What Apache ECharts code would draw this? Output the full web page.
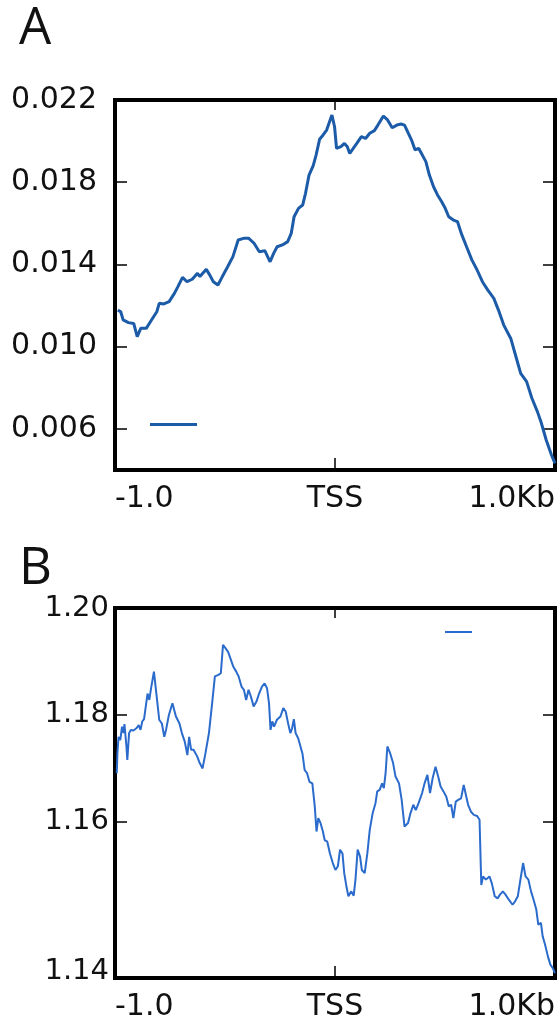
<!DOCTYPE html>
<html><head><meta charset="utf-8">
<script src="https://cdn.jsdelivr.net/npm/echarts@6/dist/echarts.min.js"></script>
<style>html,body{margin:0;padding:0;background:#fff}#c{width:558px;height:1024px}</style>
</head><body><div id="c"></div>
<script>
// shared x axis (bp relative to TSS)
const xTickValues = [-1000, 0, 1000];
const xTickLabels = ['-1.0', 'TSS', '1.0Kb'];

// Panel A
const posA = [-987,-974,-963,-939,-915,-899,-883,-858,-834,-810,-799,-778,-754,-730,-714,-693,-673,-649,-625,-614,-601,-585,-569,-553,-532,-512,-488,-464,-440,-416,-392,-368,-344,-319,-295,-279,-263,-239,-215,-199,-186,-166,-147,-134,-118,-99,-86,-70,-54,-38,-14,-2,7,27,43,56,67,83,99,120,139,158,179,195,220,239,260,281,300,316,332,348,364,380,397,413,429,448,466,485,501,517,538,557,574,598,622,646,670,694,722,743,767,799,818,844,871,895,920,936,960,984,1000];
const valA = [0.01178,0.01170,0.01130,0.01117,0.01113,0.01049,0.01089,0.01089,0.01130,0.01170,0.01211,0.01208,0.01219,0.01259,0.01292,0.01337,0.01316,0.01328,0.01357,0.01341,0.01357,0.01376,0.01348,0.01316,0.01300,0.01341,0.01389,0.01438,0.01519,0.01527,0.01527,0.01503,0.01462,0.01467,0.01413,0.01454,0.01486,0.01495,0.01511,0.01551,0.01632,0.01673,0.01689,0.01746,0.01835,0.01881,0.01932,0.02009,0.02030,0.02054,0.02127,0.02070,0.01965,0.01973,0.01989,0.01973,0.01940,0.01965,0.01989,0.02022,0.02013,0.02038,0.02051,0.02078,0.02122,0.02103,0.02065,0.02078,0.02083,0.02078,0.02041,0.02005,0.01957,0.01965,0.01932,0.01900,0.01835,0.01778,0.01738,0.01705,0.01673,0.01632,0.01616,0.01608,0.01551,0.01486,0.01422,0.01373,0.01316,0.01276,0.01235,0.01178,0.01105,0.01040,0.00968,0.00870,0.00830,0.00749,0.00684,0.00635,0.00546,0.00473,0.00432];
const yMinA = 0.004, yMaxA = 0.022;
const yTicksA = [0.006, 0.010, 0.014, 0.018, 0.022];
const yTickLabelsA = ['0.006', '0.010', '0.014', '0.018', '0.022'];

// Panel B
const posB = [-992,-989,-984,-976,-968,-961,-957,-948,-944,-936,-928,-916,-903,-892,-884,-876,-868,-860,-852,-844,-836,-823,-812,-799,-787,-776,-768,-755,-739,-731,-723,-707,-696,-683,-671,-663,-654,-643,-626,-615,-602,-589,-573,-560,-546,-530,-519,-509,-498,-486,-473,-462,-449,-438,-425,-414,-404,-393,-382,-370,-357,-345,-332,-320,-309,-300,-293,-285,-277,-264,-248,-235,-224,-213,-203,-195,-187,-179,-167,-159,-148,-138,-127,-116,-103,-92,-84,-76,-66,-55,-47,-35,-23,-10,2,13,23,34,42,52,61,74,85,93,103,114,122,135,147,158,171,184,192,203,214,222,230,238,251,264,275,291,303,316,332,343,356,367,380,396,407,420,432,444,457,469,480,493,506,517,528,538,549,560,573,585,594,605,618,631,646,657,665,673,686,702,713,726,739,750,763,775,791,807,818,831,844,855,866,879,891,903,915,924,936,944,955,968,979,989,1000];
const valB = [1.1691,1.1728,1.1759,1.1753,1.1778,1.1766,1.1783,1.1741,1.1716,1.1766,1.1772,1.1771,1.1775,1.1781,1.1772,1.1788,1.1792,1.1816,1.1840,1.1828,1.1850,1.1881,1.1840,1.1791,1.1784,1.1759,1.1772,1.1800,1.1822,1.1819,1.1797,1.1784,1.1766,1.1750,1.1725,1.1759,1.1735,1.1735,1.1722,1.1710,1.1700,1.1728,1.1766,1.1816,1.1872,1.1875,1.1878,1.1931,1.1925,1.1918,1.1903,1.1890,1.1881,1.1872,1.1853,1.1847,1.1828,1.1847,1.1834,1.1816,1.1825,1.1840,1.1853,1.1859,1.1850,1.1822,1.1772,1.1788,1.1778,1.1791,1.1797,1.1813,1.1806,1.1784,1.1766,1.1775,1.1792,1.1766,1.1756,1.1759,1.1728,1.1697,1.1691,1.1675,1.1672,1.1629,1.1582,1.1607,1.1598,1.1582,1.1566,1.1563,1.1541,1.1523,1.1510,1.1517,1.1548,1.1541,1.1504,1.1479,1.1461,1.1470,1.1462,1.1492,1.1548,1.1535,1.1510,1.1504,1.1541,1.1585,1.1616,1.1635,1.1657,1.1660,1.1672,1.1663,1.1691,1.1741,1.1728,1.1710,1.1685,1.1672,1.1641,1.1591,1.1598,1.1616,1.1632,1.1622,1.1635,1.1654,1.1672,1.1688,1.1654,1.1682,1.1703,1.1685,1.1666,1.1657,1.1647,1.1629,1.1632,1.1607,1.1638,1.1641,1.1644,1.1669,1.1666,1.1632,1.1619,1.1613,1.1611,1.1604,1.1482,1.1498,1.1492,1.1498,1.1485,1.1461,1.1457,1.1464,1.1470,1.1464,1.1454,1.1445,1.1451,1.1461,1.1495,1.1523,1.1498,1.1492,1.1470,1.1454,1.1436,1.1408,1.1411,1.1386,1.1370,1.1348,1.1333,1.1327,1.1317];
const yMinB = 1.1308, yMaxB = 1.20;
const yTicksB = [1.1308, 1.16, 1.18, 1.20];
const yTickLabelsB = ['1.14', '1.16', '1.18', '1.20'];

const FONT = 'DejaVu Sans';
function lab(values, labels) {
  return v => { const i = values.findIndex(t => Math.abs(t - v) < 1e-7); return i < 0 ? '' : labels[i]; };
}
const gridA = {left: 115, top: 100, right: 0, height: 370, show: true, borderColor: '#000', borderWidth: 4, backgroundColor: 'transparent'};
const gridB = {left: 115, top: 608, right: 0, height: 370, show: true, borderColor: '#000', borderWidth: 4, backgroundColor: 'transparent'};
const TICK = {color: '#000', width: 1.5};

function xBottom(g) {
  return {type: 'value', gridIndex: g, position: 'bottom', min: -1000, max: 1000, interval: 1000,
    axisLine: {show: false, onZero: false}, splitLine: {show: false},
    axisTick: {show: true, inside: true, length: 12, lineStyle: TICK, customValues: [0]},
    axisLabel: {show: true, margin: 14, fontFamily: FONT, fontSize: 30, color: '#111',
      alignMinLabel: 'left', alignMaxLabel: 'right', formatter: lab(xTickValues, xTickLabels)}};
}
function xTop(g) {
  return {type: 'value', gridIndex: g, position: 'top', min: -1000, max: 1000, interval: 1000,
    axisLine: {show: false, onZero: false}, splitLine: {show: false}, axisLabel: {show: false},
    axisTick: {show: true, inside: true, length: 10, lineStyle: TICK, customValues: [0]}};
}
function yLeft(g, min, max, ticks, labels, margin, fs, extra) {
  return {type: 'value', gridIndex: g, position: 'left', min: min, max: max,
    axisLine: {show: false, onZero: false}, splitLine: {show: false},
    axisTick: {show: true, inside: true, length: 12, lineStyle: TICK, customValues: ticks.filter(t => t > min && t < max)},
    axisLabel: Object.assign({show: true, margin: margin, fontFamily: FONT, fontSize: fs, color: '#111',
      customValues: ticks, formatter: lab(ticks, labels)}, extra || {})};
}
function yRight(g, min, max, ticks) {
  return {type: 'value', gridIndex: g, position: 'right', min: min, max: max,
    axisLine: {show: false, onZero: false}, splitLine: {show: false}, axisLabel: {show: false},
    axisTick: {show: true, inside: true, length: 12, lineStyle: TICK, customValues: ticks.filter(t => t > min && t < max)}};
}

const option = {
  animation: false,
  backgroundColor: '#fff',
  title: [
    {text: 'A', left: 14, top: -1, textStyle: {fontFamily: 'Open Sans', fontSize: 51, fontWeight: 'normal', color: '#111'}},
    {text: 'B', left: 14, top: 539, textStyle: {fontFamily: 'Open Sans', fontSize: 51, fontWeight: 'normal', color: '#111'}}
  ],
  legend: [
    {data: ['A'], left: 150, top: 423, padding: 0, icon: 'rect', itemWidth: 47, itemHeight: 3, selectedMode: false, formatter: () => '', textStyle: {fontSize: 1}},
    {data: ['B'], left: 445, top: 631, padding: 0, icon: 'rect', itemWidth: 27, itemHeight: 2, selectedMode: false, formatter: () => '', textStyle: {fontSize: 1}}
  ],
  grid: [gridA, gridB],
  xAxis: [xBottom(0), xTop(0), xBottom(1), xTop(1)],
  yAxis: [
    yLeft(0, yMinA, yMaxA, yTicksA, yTickLabelsA, 18, 30),
    yRight(0, yMinA, yMaxA, yTicksA),
    yLeft(1, yMinB, yMaxB, yTicksB, yTickLabelsB, 6, 29, {verticalAlignMinLabel: 'bottom', lineHeight: 14}),
    yRight(1, yMinB, yMaxB, yTicksB)
  ],
  series: [
    {name: 'A', type: 'line', xAxisIndex: 0, yAxisIndex: 0, showSymbol: false, symbol: 'none',
      data: posA.map((x, i) => [x, valA[i]]), lineStyle: {color: '#1c5ba8', width: 3}, itemStyle: {color: '#1c5ba8'}},
    {name: 'B', type: 'line', xAxisIndex: 2, yAxisIndex: 2, showSymbol: false, symbol: 'none',
      data: posB.map((x, i) => [x, valB[i]]), lineStyle: {color: '#2b6bcc', width: 2}, itemStyle: {color: '#2b6bcc'}}
  ]
};
const chart = echarts.init(document.getElementById('c'), null, {renderer: 'canvas'});
chart.setOption(option);
</script></body></html>
